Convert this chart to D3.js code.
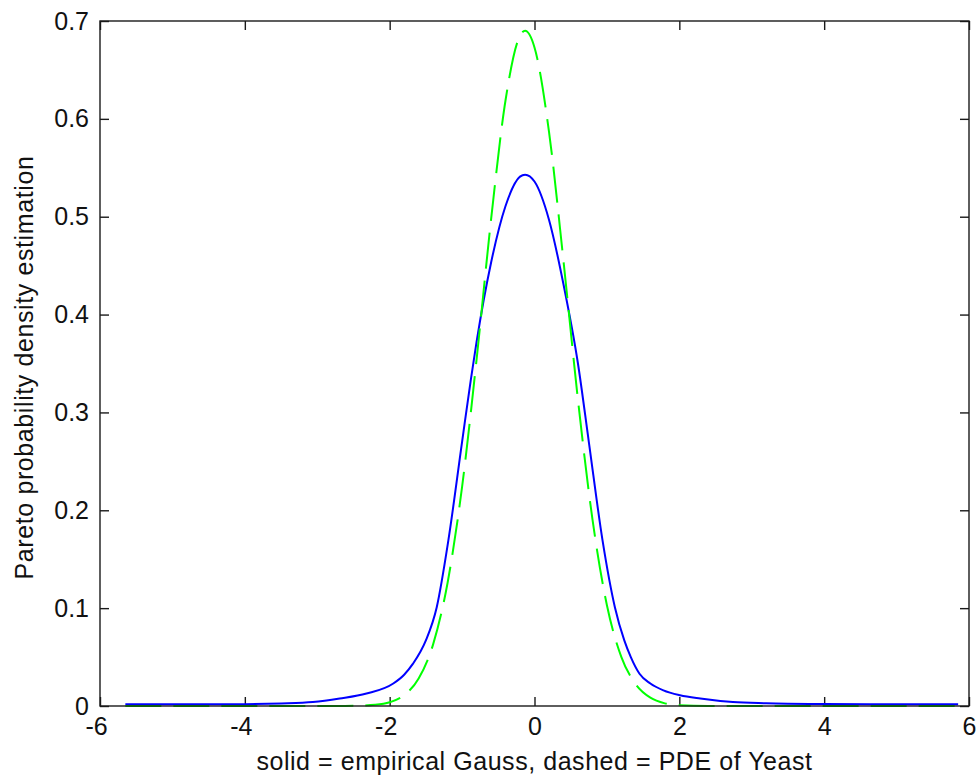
<!DOCTYPE html>
<html>
<head>
<meta charset="utf-8">
<script src="https://d3js.org/d3.v7.min.js"></script>
<style>
body { margin: 0; background: #fff; }
text { font-family: Arial, "Liberation Sans", sans-serif; }
</style>
</head>
<body>
<div id="my_dataviz"></div>
<script>

// empirical Gauss (solid blue)
var gaussX = [-5.65, -5, -4.5, -4, -3.5, -3.06, -2.69, -2.32, -1.95, -1.8, -1.68, -1.5, -1.35, -1.19, -1.0, -0.88, -0.8, -0.6, -0.4, -0.2, -0.13, 0, 0.2, 0.4, 0.6, 0.75, 0.94, 1.11, 1.24, 1.33, 1.45, 1.6, 1.78, 2.01, 2.29, 2.74, 3.2, 4, 5, 5.85];
var gaussY = [0.0017, 0.0017, 0.0018, 0.0019, 0.0026, 0.004, 0.0076, 0.0127, 0.023, 0.032, 0.043, 0.067, 0.101, 0.169, 0.27, 0.333, 0.372, 0.453, 0.511, 0.541, 0.543, 0.536, 0.497, 0.431, 0.35, 0.27, 0.169, 0.101, 0.067, 0.05, 0.033, 0.023, 0.016, 0.011, 0.0076, 0.004, 0.0028, 0.002, 0.0017, 0.0017];

// PDE of Yeast (dashed green)
var yeastX = [-5.65, -4, -3, -2.5, -2.2, -2.0, -1.8, -1.6, -1.4, -1.2, -1.0, -0.8, -0.6, -0.4, -0.2, -0.13, 0, 0.2, 0.4, 0.6, 0.8, 1.0, 1.2, 1.4, 1.6, 1.8, 2.0, 2.4, 4, 5.85];
var yeastY = [0, 0, 0, 0.0002, 0.0012, 0.0038, 0.011, 0.028, 0.063, 0.126, 0.224, 0.354, 0.497, 0.619, 0.685, 0.69, 0.673, 0.587, 0.455, 0.313, 0.191, 0.103, 0.05, 0.022, 0.0085, 0.0027, 0.0008, 0, 0, 0];

var xTicks = [-6, -4, -2, 0, 2, 4, 6];
var yTicks = [0, 0.1, 0.2, 0.3, 0.4, 0.5, 0.6, 0.7];
var xLabel = "solid = empirical Gauss, dashed = PDE of Yeast";
var yLabel = "Pareto probability density estimation";

// set the dimensions and margins of the graph
var margin = {top: 21, right: 8, bottom: 72, left: 100},
    width = 977 - margin.left - margin.right,
    height = 778 - margin.top - margin.bottom;

var svg = d3.select("#my_dataviz")
    .append("svg")
    .attr("width", width + margin.left + margin.right)
    .attr("height", height + margin.top + margin.bottom)
    .append("g")
    .attr("transform", "translate(" + margin.left + "," + margin.top + ")");

var x = d3.scaleLinear().domain([-6, 6]).range([0, width]);
var y = d3.scaleLinear().domain([0, 0.7]).range([height, 0]);

// axes, ticks pointing inward like matlab (plain hyphen for minus)
var bottom = svg.append("g")
    .attr("transform", "translate(0," + height + ")")
    .call(d3.axisBottom(x).tickValues(xTicks).tickSize(-9).tickSizeOuter(0).tickPadding(11)
        .tickFormat(function(d){ return String(d) }));
bottom.selectAll("text")
    .attr("dx", function(d){ return d < 0 ? -4 : 0 });

var left = svg.append("g")
    .call(d3.axisLeft(y).tickValues(yTicks).tickSize(-9).tickSizeOuter(0).tickPadding(11)
        .tickFormat(function(d){ return d === 0 ? "0" : d3.format(".1f")(d) }));

svg.append("g")
    .call(d3.axisTop(x).tickValues(xTicks).tickSize(-9).tickSizeOuter(0).tickFormat(""));
svg.append("g")
    .attr("transform", "translate(" + width + ",0)")
    .call(d3.axisRight(y).tickValues(yTicks).tickSize(-9).tickSizeOuter(0).tickFormat(""));

svg.selectAll(".domain").remove();
svg.selectAll(".tick line").attr("stroke", "#1a1a1a").attr("stroke-width", 1.4);
svg.selectAll(".tick text")
    .attr("font-size", "25px")
    .attr("font-family", "Arial, 'Liberation Sans', sans-serif")
    .attr("fill", "#111");

// the curves
var line = d3.line()
    .x(function(d){ return x(d[0]) })
    .y(function(d){ return y(d[1]) })
    .curve(d3.curveMonotoneX);

svg.append("path")
    .datum(d3.zip(gaussX, gaussY))
    .attr("d", line)
    .attr("fill", "none")
    .attr("stroke", "#0000ff")
    .attr("stroke-width", 2);

svg.append("path")
    .datum(d3.zip(yeastX, yeastY))
    .attr("d", line)
    .attr("fill", "none")
    .attr("stroke", "#00ff00")
    .attr("stroke-width", 2)
    .attr("stroke-dasharray", "36,12");

// box round the plot
svg.append("rect")
    .attr("width", width)
    .attr("height", height)
    .attr("fill", "none")
    .attr("stroke", "#1a1a1a")
    .attr("stroke-width", 1.4);

// axis labels
svg.append("text")
    .attr("x", width / 2)
    .attr("y", height + 64)
    .attr("text-anchor", "middle")
    .attr("font-size", "25px")
    .attr("letter-spacing", "0.55px")
    .attr("fill", "#111")
    .text(xLabel);

svg.append("text")
    .attr("transform", "translate(" + (33 - margin.left) + "," + (height / 2 + 4) + ") rotate(-90)")
    .attr("text-anchor", "middle")
    .attr("font-size", "25px")
    .attr("letter-spacing", "0.6px")
    .attr("fill", "#111")
    .text(yLabel);

</script>
</body>
</html>
